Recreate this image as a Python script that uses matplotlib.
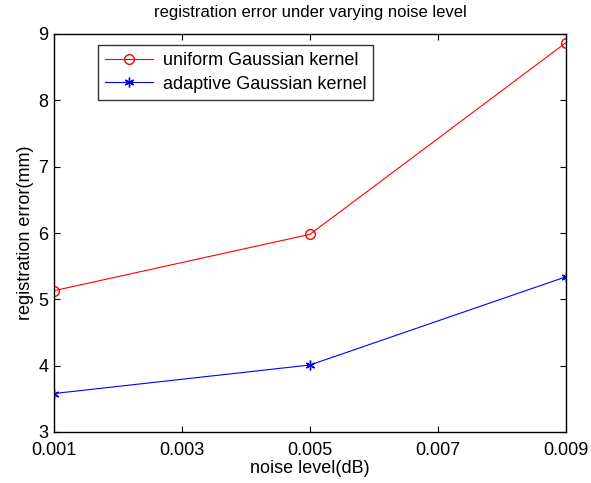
import matplotlib
matplotlib.use('Agg')
import matplotlib.pyplot as plt

noise = [0.001, 0.005, 0.009]
uniform_err = [5.13, 5.98, 8.87]
adaptive_err = [3.58, 4.01, 5.34]
xticks = [0.001, 0.003, 0.005, 0.007, 0.009]
xticklabels = ['0.001', '0.003', '0.005', '0.007', '0.009']

plt.rcParams['font.family'] = ['Liberation Sans', 'DejaVu Sans']

fig = plt.figure(figsize=(5.91, 4.83), dpi=100)
# axes box roughly at x 54..566, y 34..432 px
ax = fig.add_axes([54/591, 1 - 432/483, 512/591, 398/483])

ax.plot(noise, uniform_err, color='red', marker='o', markersize=7,
        markerfacecolor='none', linewidth=0.8, label='uniform Gaussian kernel')
ax.plot(noise, adaptive_err, color='blue', marker=(6, 2, 0), markersize=7,
        linewidth=0.8, label='adaptive Gaussian kernel')

ax.set_xlim(0.001, 0.009)
ax.set_ylim(3, 9)
ax.set_xticks(xticks)
ax.set_xticklabels(xticklabels)
ax.tick_params(direction='in', top=True, right=True, labelsize=13, length=4)
ax.tick_params(axis='x', pad=7)
ax.tick_params(axis='y', pad=4)
for s in ax.spines.values():
    s.set_linewidth(1.0)

ax.set_xlabel('noise level(dB)', fontsize=13, labelpad=1)
ax.set_ylabel('registration error(mm)', fontsize=13, labelpad=3)
ax.set_title('registration error under varying noise level', fontsize=12, pad=12)

leg = ax.legend(loc='upper left', bbox_to_anchor=(0.085, 0.972), fontsize=13,
                frameon=True, fancybox=False, edgecolor='black',
                handlelength=2.7, handletextpad=0.5, borderpad=0.4,
                labelspacing=0.35, borderaxespad=0)
leg.get_frame().set_linewidth(1.0)

fig.savefig('out.png', dpi=100)
